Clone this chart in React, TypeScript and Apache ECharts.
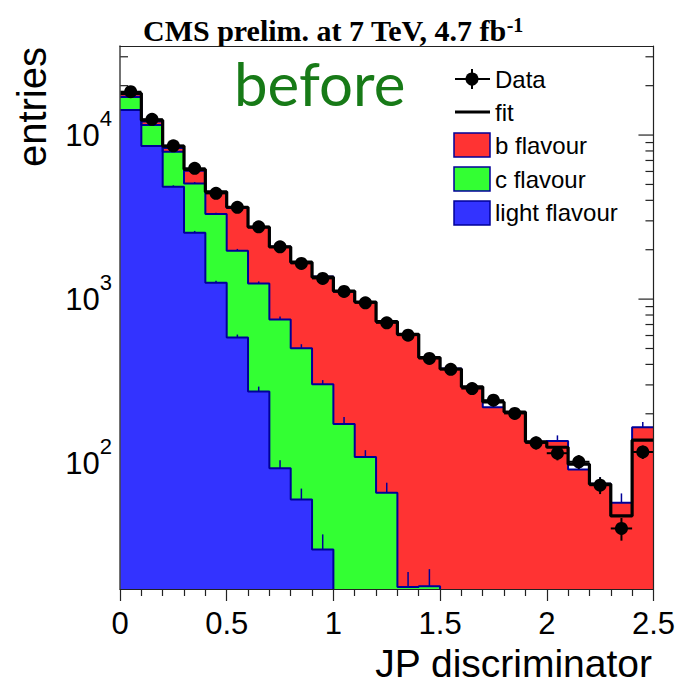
import { useEffect, useRef } from 'react';
import * as echarts from 'echarts';

// ---- data ----
const binLow = [0, 0.1, 0.2, 0.3, 0.4, 0.5, 0.6, 0.7, 0.8, 0.9, 1.0, 1.1, 1.2, 1.3, 1.4, 1.5, 1.6, 1.7, 1.8, 1.9, 2.0, 2.1, 2.2, 2.3, 2.4];
const BIN_WIDTH = 0.1;

const lightFlavour = [14200, 8570, 4840, 2540, 1257, 583, 273, 93, 60, 29.8, 8, 5, 3, 2, 1.5, 1, 1, 0.8, 0.6, 0.5, 0.4, 0.3, 0.3, 0.2, 0.2];
const cFlavour = [2860, 2940, 3070, 2530, 2043, 1385, 974, 659, 442, 273, 165, 104, 63, 15.6, 16.3, 1.2, 0.8, 0.6, 0.5, 0.4, 0.3, 0.3, 0.2, 0.2, 0.2];
const bFlavour = [640, 590, 430, 980, 1200, 1630, 1490, 1330, 1160, 1070, 940, 850, 660, 587, 422, 376, 288, 218, 204, 134, 136, 91, 74.5, 57, 165];

const lightErrors = [140, 120, 100, 64, 35, 25, 20, 11, 10, 7, 0, 0, 0, 0, 0, 0, 0, 0, 0, 0, 0, 0, 0, 0, 0];
const cErrors = [170, 140, 120, 100, 65, 55, 35, 32, 29, 18, 18, 11, 10, 4.1, 4.8, 0, 0, 0, 0, 0, 0, 0, 0, 0, 0];
const bErrors = [180, 120, 90, 80, 60, 55, 45, 40, 35, 33, 30, 28, 22, 20, 16, 14, 12, 20, 12, 10, 11, 7, 7.3, 8, 13];

const fitValues = [17950, 12330, 8570, 6180, 4510, 3630, 2750, 2080, 1680, 1360, 1120, 960, 730, 610, 440, 375, 292, 236, 205, 135, 125, 98.6, 74.5, 47.7, 138];
const dataValues = [18370, 12470, 8605, 6265, 4411, 3624, 2760, 2084, 1651, 1337, 1114, 949, 717, 603, 435, 373, 285, 242, 201, 133, 115, 102, 73.4, 40.0, 117];
const dataErrors = [136, 112, 93, 79, 66, 60, 53, 46, 41, 37, 33, 31, 27, 25, 21, 19, 17, 16, 14, 12, 11, 10, 8.6, 6.3, 11];

const yMajorTicks = [100, 1000, 10000];
const yMinorTicks = [20, 30, 40, 50, 60, 70, 80, 90, 200, 300, 400, 500, 600, 700, 800, 900, 2000, 3000, 4000, 5000, 6000, 7000, 8000, 9000, 20000, 30000];

const X_MIN = 0;
const X_MAX = 2.5;
const Y_MIN = 17.1;
const Y_MAX = 34900;

const SANS = "'Liberation Sans', Arial, Helvetica, sans-serif";
const SERIF = "'Liberation Serif', 'Times New Roman', serif";
const OUTLINE = '#000099';
const RED = '#ff3333';
const GREEN = '#33ff33';
const BLUE = '#3333ff';

export default function App() {
  const ref = useRef<HTMLDivElement>(null);

  useEffect(() => {
    if (!ref.current) return;
    const chart = echarts.init(ref.current, undefined, { renderer: 'svg' });

    const n = binLow.length;
    const stackLight = lightFlavour.slice();
    const stackC = lightFlavour.map((v, i) => v + cFlavour[i]);
    const stackB = stackC.map((v, i) => v + bFlavour[i]);
    const centers = binLow.map((x) => x + BIN_WIDTH / 2);

    const stepData = (arr: number[]) => {
      const pts = binLow.map((x, i) => [x, arr[i]]);
      pts.push([binLow[n - 1] + BIN_WIDTH, arr[n - 1]]);
      return pts;
    };

    const layerRenderer = (lower: number[] | null, upper: number[], color: string) => (params: any, api: any) => {
      const cs = params.coordSys;
      const top = cs.y;
      const bot = cs.y + cs.height;
      const cy = (y: number) => Math.min(Math.max(y, top), bot);
      const pt = (x: number, v: number) => {
        const c = api.coord([x, v]);
        return [c[0], cy(c[1])];
      };
      const pts: number[][] = [];
      for (let i = 0; i < n; i++) {
        pts.push(pt(binLow[i], upper[i]));
        pts.push(pt(binLow[i] + BIN_WIDTH, upper[i]));
      }
      if (lower) {
        for (let i = n - 1; i >= 0; i--) {
          pts.push(pt(binLow[i] + BIN_WIDTH, lower[i]));
          pts.push(pt(binLow[i], lower[i]));
        }
      } else {
        pts.push([api.coord([binLow[n - 1] + BIN_WIDTH, Y_MIN])[0], bot]);
        pts.push([api.coord([binLow[0], Y_MIN])[0], bot]);
      }
      return { type: 'polygon', shape: { points: pts }, style: { fill: color } };
    };

    const errTickData: number[][] = [];
    [
      [stackLight, lightErrors],
      [stackC, cErrors],
      [stackB, bErrors],
    ].forEach(([vals, errs]) => {
      for (let i = 0; i < n; i++) {
        if (errs[i] > 0) errTickData.push([centers[i], vals[i], errs[i]]);
      }
    });

    const tickData = [
      ...yMajorTicks.map((v) => [X_MIN, v, 1]),
      ...yMinorTicks.map((v) => [X_MIN, v, 0]),
    ];

    const fillSeries = (name: string, lower: number[] | null, upper: number[], color: string) => ({
      name,
      type: 'custom',
      z: 2,
      silent: true,
      data: [[1, 100]],
      renderItem: layerRenderer(lower, upper, color),
    });

    const outlineSeries = (arr: number[]) => ({
      type: 'line',
      z: 3,
      silent: true,
      step: 'end',
      showSymbol: false,
      symbol: 'none',
      clip: true,
      lineStyle: { color: OUTLINE, width: 2 },
      data: stepData(arr),
    });

    const option: any = {
      animation: false,
      backgroundColor: '#ffffff',
      title: {
        text: '{t|CMS prelim. at 7 TeV, 4.7 fb}{s|-1}',
        left: 138,
        top: 10,
        textStyle: {
          rich: {
            t: { fontFamily: SERIF, fontWeight: 'bold', fontSize: 30, lineHeight: 31, color: '#000' },
            s: { fontFamily: SERIF, fontWeight: 'bold', fontSize: 20, lineHeight: 20, verticalAlign: 'top', color: '#000' },
          },
        },
      },
      grid: { left: 120, right: 23, top: 46, bottom: 97, containLabel: false },
      xAxis: [
        {
          type: 'value',
          min: X_MIN,
          max: X_MAX,
          interval: 0.5,
          z: 10,
          axisLine: { show: true, onZero: false, lineStyle: { color: '#222', width: 1.2 } },
          axisTick: { show: true, inside: false, length: 12, lineStyle: { color: '#222', width: 1.2 } },
          minorTick: { show: true, splitNumber: 5, length: 7, lineStyle: { color: '#222', width: 1.2 } },
          splitLine: { show: false },
          axisLabel: {
            margin: 19,
            fontFamily: SANS,
            fontSize: 31,
            lineHeight: 31,
            color: '#000',
            formatter: (v: number) => String(v),
          },
        },
        {
          type: 'value',
          position: 'top',
          min: X_MIN,
          max: X_MAX,
          z: 10,
          axisLine: { show: true, onZero: false, lineStyle: { color: '#222', width: 1.2 } },
          axisTick: { show: false },
          axisLabel: { show: false },
          splitLine: { show: false },
        },
      ],
      yAxis: [
        {
          type: 'log',
          logBase: 10,
          min: Y_MIN,
          max: Y_MAX,
          z: 10,
          axisLine: { show: true, onZero: false, lineStyle: { color: '#444', width: 1.5 } },
          axisTick: { show: false },
          splitLine: { show: false },
          axisLabel: {
            margin: 8,
            showMinLabel: false,
            showMaxLabel: false,
            formatter: (v: number) => {
              const e = Math.log10(v);
              if (Math.abs(e - Math.round(e)) > 1e-6) return '';
              return `{b|10}{s|${Math.round(e)}}`;
            },
            rich: {
              b: { fontFamily: SANS, fontSize: 31, lineHeight: 56, color: '#000' },
              s: { fontFamily: SANS, fontSize: 22, lineHeight: 23, verticalAlign: 'top', color: '#000' },
            },
          },
        },
        {
          type: 'log',
          logBase: 10,
          position: 'right',
          min: Y_MIN,
          max: Y_MAX,
          z: 10,
          axisLine: { show: true, onZero: false, lineStyle: { color: '#222', width: 1.2 } },
          axisTick: { show: false },
          axisLabel: { show: false },
          splitLine: { show: false },
        },
      ],
      series: [
        {
          type: 'custom',
          z: 1,
          silent: true,
          data: tickData,
          renderItem: (params: any, api: any) => {
            const v = api.value(1);
            const len = api.value(2) ? 15 : 8;
            const l = api.coord([X_MIN, v]);
            const r = api.coord([X_MAX, v]);
            return {
              type: 'group',
              children: [
                { type: 'line', shape: { x1: l[0], y1: l[1], x2: l[0] + len, y2: l[1] }, style: { stroke: '#222', lineWidth: 1.2 } },
                { type: 'line', shape: { x1: r[0] - len, y1: r[1], x2: r[0], y2: r[1] }, style: { stroke: '#222', lineWidth: 1.2 } },
              ],
            };
          },
        },
        fillSeries('b flavour', stackC, stackB, RED),
        fillSeries('c flavour', stackLight, stackC, GREEN),
        fillSeries('light flavour', null, stackLight, BLUE),
        outlineSeries(stackB),
        outlineSeries(stackC),
        outlineSeries(stackLight),
        {
          type: 'custom',
          z: 3,
          silent: true,
          clip: true,
          data: errTickData,
          renderItem: (params: any, api: any) => {
            const x = api.value(0);
            const v = api.value(1);
            const e = api.value(2);
            const a = api.coord([x, v]);
            const b = api.coord([x, v + e]);
            return { type: 'line', shape: { x1: a[0], y1: a[1], x2: b[0], y2: b[1] }, style: { stroke: OUTLINE, lineWidth: 1.5 } };
          },
        },
        {
          name: 'fit',
          type: 'line',
          z: 4,
          silent: true,
          step: 'end',
          showSymbol: false,
          symbol: 'none',
          clip: true,
          lineStyle: { color: '#000', width: 3.2 },
          data: stepData(fitValues),
        },
        {
          type: 'custom',
          z: 5,
          silent: true,
          data: centers.map((c, i) => [c, dataValues[i], dataErrors[i]]),
          renderItem: (params: any, api: any) => {
            const x = api.value(0);
            const v = api.value(1);
            const e = api.value(2);
            const lo = api.coord([x, v - e]);
            const hi = api.coord([x, v + e]);
            const l = api.coord([x - BIN_WIDTH / 2, v]);
            const r = api.coord([x + BIN_WIDTH / 2, v]);
            return {
              type: 'group',
              children: [
                { type: 'line', shape: { x1: lo[0], y1: lo[1], x2: hi[0], y2: hi[1] }, style: { stroke: '#000', lineWidth: 2 } },
                { type: 'line', shape: { x1: l[0], y1: l[1], x2: r[0], y2: r[1] }, style: { stroke: '#000', lineWidth: 2 } },
              ],
            };
          },
        },
        {
          name: 'Data',
          type: 'scatter',
          z: 6,
          silent: true,
          symbol: 'circle',
          symbolSize: 13,
          itemStyle: { color: '#000', opacity: 1 },
          data: centers.map((c, i) => [c, dataValues[i]]),
        },
      ],
      graphic: [
        {
          type: 'text',
          z: 100,
          x: 52,
          y: 47,
          rotation: Math.PI / 2,
          style: { text: 'entries', font: `40px ${SANS}`, fill: '#000', align: 'right', verticalAlign: 'bottom' },
        },
        {
          type: 'text',
          z: 100,
          x: 652,
          y: 663,
          style: { text: 'JP discriminator', font: `39px ${SANS}`, fill: '#000', align: 'right', verticalAlign: 'middle' },
        },
        {
          type: 'text',
          z: 100,
          x: 234,
          y: 83,
          style: { text: 'before', font: `60px Lato, 'Open Sans', sans-serif`, fill: '#177a17', align: 'left', verticalAlign: 'middle' },
        },
        // legend
        { type: 'line', z: 100, shape: { x1: 455, y1: 79, x2: 490, y2: 79 }, style: { stroke: '#000', lineWidth: 2 } },
        { type: 'line', z: 100, shape: { x1: 472, y1: 69, x2: 472, y2: 89 }, style: { stroke: '#000', lineWidth: 2 } },
        { type: 'circle', z: 100, shape: { cx: 472, cy: 79, r: 6.5 }, style: { fill: '#000' } },
        { type: 'text', z: 100, x: 495, y: 79, style: { text: 'Data', font: `24px ${SANS}`, fill: '#000', verticalAlign: 'middle' } },
        { type: 'line', z: 100, shape: { x1: 455, y1: 112, x2: 490, y2: 112 }, style: { stroke: '#000', lineWidth: 3.2 } },
        { type: 'text', z: 100, x: 495, y: 112, style: { text: 'fit', font: `24px ${SANS}`, fill: '#000', verticalAlign: 'middle' } },
        { type: 'rect', z: 100, shape: { x: 454, y: 133, width: 36, height: 24 }, style: { fill: RED, stroke: OUTLINE, lineWidth: 1.5 } },
        { type: 'text', z: 100, x: 495, y: 145, style: { text: 'b flavour', font: `24px ${SANS}`, fill: '#000', verticalAlign: 'middle' } },
        { type: 'rect', z: 100, shape: { x: 454, y: 167, width: 36, height: 24 }, style: { fill: GREEN, stroke: OUTLINE, lineWidth: 1.5 } },
        { type: 'text', z: 100, x: 495, y: 179, style: { text: 'c flavour', font: `24px ${SANS}`, fill: '#000', verticalAlign: 'middle' } },
        { type: 'rect', z: 100, shape: { x: 454, y: 201, width: 36, height: 24 }, style: { fill: BLUE, stroke: OUTLINE, lineWidth: 1.5 } },
        { type: 'text', z: 100, x: 495, y: 212, style: { text: 'light flavour', font: `24px ${SANS}`, fill: '#000', verticalAlign: 'middle' } },
      ],
    };

    chart.setOption(option);
    return () => chart.dispose();
  }, []);

  return <div ref={ref} style={{ width: 678, height: 686, position: 'absolute', left: 0, top: 0 }} />;
}
